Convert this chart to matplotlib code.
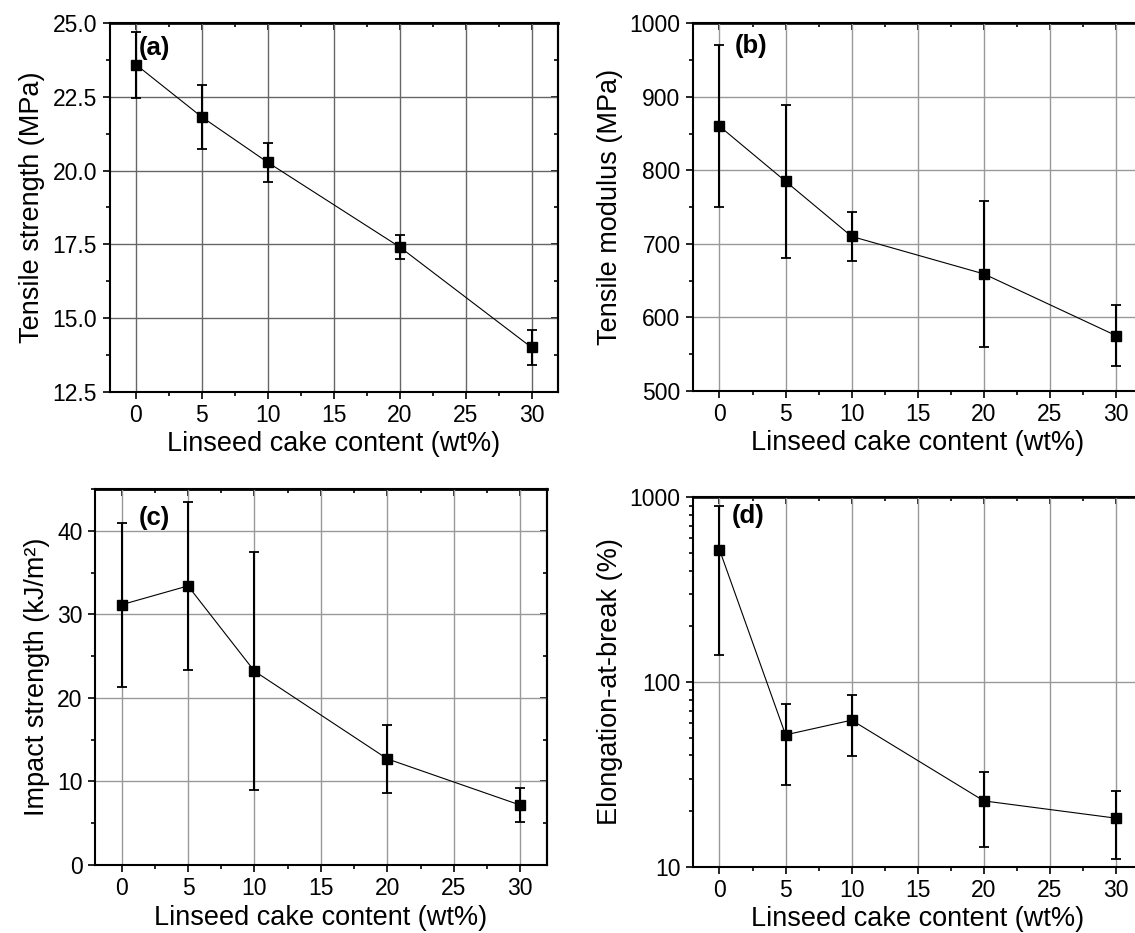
import numpy as np
import matplotlib
matplotlib.use("Agg")
import matplotlib.pyplot as plt
from matplotlib.ticker import MultipleLocator, LogLocator, NullFormatter

plt.rcParams['font.family'] = ['Liberation Sans', 'DejaVu Sans']

# Linseed cake content (wt%)
content = [0, 5, 10, 20, 30]

tensile_strength = [23.6, 21.82, 20.28, 17.41, 14.0]
tensile_strength_err = [1.12, 1.1, 0.66, 0.42, 0.58]

tensile_modulus = [860, 785, 710, 659, 575]
tensile_modulus_err = [110, 104, 33, 99, 42]

impact_strength = [31.15, 33.4, 23.2, 12.7, 7.17]
impact_strength_err = [9.8, 10.1, 14.2, 4.1, 2.0]

elongation = [520, 51.7, 62.1, 22.7, 18.3]
elongation_err = [380, 24, 22.5, 10, 7.3]

fig = plt.figure(figsize=(11.35, 9.33), dpi=100)

# [left, bottom, width, height] in figure fractions
ax_a = fig.add_axes([0.0965, 0.5802, 0.3951, 0.3948])
ax_b = fig.add_axes([0.6106, 0.5812, 0.3960, 0.3938])
ax_c = fig.add_axes([0.0837, 0.0729, 0.3980, 0.4030])
ax_d = fig.add_axes([0.6106, 0.0711, 0.3960, 0.3960])

panels = [
    (ax_a, tensile_strength, tensile_strength_err, 'Tensile strength (MPa)', '(a)',
     (12.5, 25.0), 2.5, 1.25, '#666666', (0.066, 0.934)),
    (ax_b, tensile_modulus, tensile_modulus_err, 'Tensile modulus (MPa)', '(b)',
     (500, 1000), 100, 50, '#999999', (0.092, 0.937)),
    (ax_c, impact_strength, impact_strength_err, 'Impact strength (kJ/m\u00b2)', '(c)',
     (0, 45), 10, 5, '#999999', (0.096, 0.922)),
    (ax_d, elongation, elongation_err, 'Elongation-at-break (%)', '(d)',
     (10, 1000), None, None, '#999999', (0.086, 0.948)),
]

for ax, vals, errs, ylabel, tag, ylim, major, minor, gcol, tagpos in panels:
    if major is None:
        ax.set_yscale('log')
        ax.yaxis.set_major_locator(LogLocator(base=10))
        ax.yaxis.set_minor_locator(LogLocator(base=10, subs=np.arange(2, 10)))
        ax.yaxis.set_minor_formatter(NullFormatter())
        ax.yaxis.set_major_formatter(plt.FuncFormatter(lambda v, p: '%d' % v))
    else:
        ax.yaxis.set_major_locator(MultipleLocator(major))
        ax.yaxis.set_minor_locator(MultipleLocator(minor))
        if major == 2.5:
            ax.yaxis.set_major_formatter(plt.FormatStrFormatter('%.1f'))

    ax.errorbar(content, vals, yerr=errs, fmt='none', ecolor='black',
                elinewidth=1.5, capsize=3.8, capthick=1.3, zorder=3)
    ax.plot(content, vals, color='black', lw=0.8, marker='s', ms=6.5,
            mfc='black', mec='black', zorder=4)

    ax.set_xlim(-2, 32)
    ax.set_ylim(*ylim)
    ax.xaxis.set_major_locator(MultipleLocator(5))
    ax.xaxis.set_minor_locator(MultipleLocator(2.5))

    ax.grid(True, which='major', color=gcol, lw=1.0)
    ax.set_axisbelow(True)

    ax.tick_params(which='both', direction='out', top=False, right=False,
                   labelsize=16.5, width=1.2, color='black', pad=4)
    ax.tick_params(which='major', length=5)
    ax.tick_params(which='minor', length=3)

    # mirrored inward ticks on the top and right frame
    sx = ax.secondary_xaxis('top')
    sx.xaxis.set_major_locator(MultipleLocator(5))
    sx.xaxis.set_minor_locator(MultipleLocator(2.5))
    sx.tick_params(which='both', direction='in', labeltop=False, width=1.2)
    sx.tick_params(which='major', length=5)
    sx.tick_params(which='minor', length=3)
    sx.spines['top'].set_linewidth(2.0)
    sy = ax.secondary_yaxis('right')
    if major is not None:
        sy.yaxis.set_major_locator(MultipleLocator(major))
        sy.yaxis.set_minor_locator(MultipleLocator(minor))
    sy.tick_params(which='both', direction='in', labelright=False, width=1.2)
    sy.tick_params(which='major', length=5)
    sy.tick_params(which='minor', length=3)
    sy.spines['right'].set_linewidth(1.5)

    for side in ['left', 'bottom', 'top', 'right']:
        ax.spines[side].set_linewidth(1.5)

    ax.set_xlabel('Linseed cake content (wt%)', fontsize=19.5, labelpad=3)
    ax.set_ylabel(ylabel, fontsize=19.5, labelpad=5)
    ax.text(tagpos[0], tagpos[1], tag, transform=ax.transAxes, fontsize=18.5,
            fontweight='bold', va='center', ha='left')

fig.savefig('out.png', dpi=100)
